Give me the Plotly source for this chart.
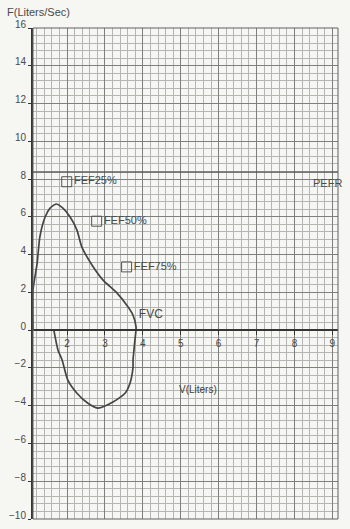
import plotly.graph_objects as go

# Flow-volume loop (volume in liters, flow in liters/sec)
loop_volume = [1.10, 1.10, 1.21, 1.28, 1.42, 1.55, 1.71, 1.89, 2.08, 2.26, 2.39, 2.66, 2.95,
               3.32, 3.61, 3.74, 3.82, 3.79, 3.74, 3.74, 3.66, 3.53, 3.21, 2.82, 2.55,
               2.26, 2.02, 1.87, 1.76, 1.65]
loop_flow = [0.00, 2.12, 3.55, 4.93, 5.99, 6.46, 6.68, 6.46, 5.99, 5.30, 4.40, 3.44, 2.65,
             1.96, 1.22, 0.79, 0.16, -0.53, -1.59, -1.96, -2.81, -3.34, -3.81, -4.13, -3.87,
             -3.34, -2.65, -1.59, -1.06, 0.00]

fef_labels = ["FEF25%", "FEF50%", "FEF75%"]
fef_volume = [1.99, 2.78, 3.57]
fef_flow = [7.86, 5.77, 3.35]

fvc_label = ["FVC"]
fvc_volume = [4.21]
fvc_flow = [0.80]

pefr_label = "PEFR"
pefr_flow = 8.37
x_range = [1.1, 9.15]
y_range = [-10, 16]
x_ticks = [2, 3, 4, 5, 6, 7, 8, 9]
y_ticks = [16, 14, 12, 10, 8, 6, 4, 2, 0, -2, -4, -6, -8, -10]

ink = "#353535"
txt = "#4a4a4a"
fam = "Liberation Sans, Arial, sans-serif"

fig = go.Figure()

fig.add_trace(go.Scatter(x=x_range, y=[pefr_flow, pefr_flow], mode="lines",
                         line=dict(color="#505050", width=1.4), hoverinfo="skip"))

fig.add_trace(go.Scatter(x=loop_volume, y=loop_flow, mode="lines",
                         line=dict(color="#454545", width=1.7, shape="spline", smoothing=0.6)))

fig.add_trace(go.Scatter(x=fef_volume, y=fef_flow, mode="markers+text", text=fef_labels,
                         textposition="middle right",
                         textfont=dict(family=fam, size=11, color=txt),
                         marker=dict(symbol="square-open", size=10, color="#555", line=dict(width=1, color="#555"))))

fig.add_trace(go.Scatter(x=fvc_volume, y=fvc_flow, mode="text", text=fvc_label,
                         textfont=dict(family=fam, size=12, color=txt)))

fig.add_annotation(x=8.43, y=7.79, xref="x", yref="y", text=pefr_label, showarrow=False,
                   xanchor="left", font=dict(family=fam, size=11, color=txt))
fig.add_annotation(x=5.45, y=-3.13, xref="x", yref="y", text="V(Liters)", showarrow=False,
                   font=dict(family=fam, size=10, color="#3f3f3f"))
fig.add_annotation(x=-0.092, y=1.033, xref="paper", yref="paper", text="F(Liters/Sec)", showarrow=False,
                   xanchor="left", yanchor="middle",
                   font=dict(family=fam, size=11, color=txt))

fig.add_shape(type="rect", xref="paper", yref="paper", x0=0, y0=0, x1=1, y1=1,
              line=dict(color="#606060", width=1))

fig.update_layout(
    template="none",
    width=350, height=529,
    margin=dict(l=33, r=12, t=28, b=10, pad=0, autoexpand=False),
    paper_bgcolor="#f6f6f3", plot_bgcolor="#f6f6f3",
    showlegend=False, font=dict(family=fam, size=10, color=txt),
    xaxis=dict(range=x_range, tickvals=x_ticks, anchor="free", automargin=False,
               position=(0 - y_range[0]) / (y_range[1] - y_range[0]),
               showline=True, linecolor=ink, linewidth=1.6,
               ticks="outside", ticklen=4, tickcolor=ink,
               showgrid=True, gridcolor="#7f7f7f", gridwidth=1, zeroline=False,
               minor=dict(dtick=0.2, tick0=0, showgrid=True, gridcolor="#b5b5b5", gridwidth=1, ticks=""),
               tickfont=dict(family=fam, size=10, color=txt)),
    yaxis=dict(range=y_range, tickvals=y_ticks, showline=True, linecolor=ink, linewidth=2,
               automargin=False,
               ticks="outside", ticklen=3, tickcolor=ink, ticklabelshift=-4,
               showgrid=True, gridcolor="#7f7f7f", gridwidth=1, zeroline=False,
               minor=dict(dtick=0.4, tick0=0, showgrid=True, gridcolor="#b5b5b5", gridwidth=1, ticks=""),
               tickfont=dict(family=fam, size=10, color=txt)),
)

fig.write_html("out.html", config={"displayModeBar": False},
               post_script="document.body.style.margin='0';document.body.style.background='#f6f6f3';")
